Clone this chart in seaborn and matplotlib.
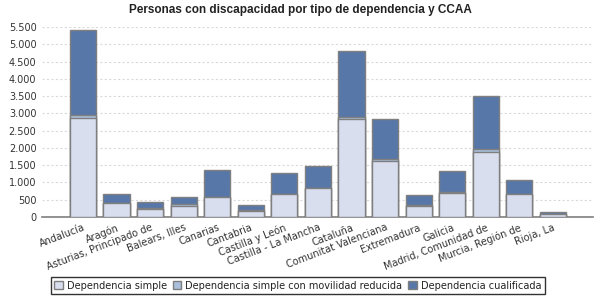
import numpy as np
import pandas as pd
import seaborn as sb
import matplotlib
matplotlib.use('Agg')
import matplotlib.pyplot as plt
from matplotlib.patches import Patch
from matplotlib.ticker import FuncFormatter, MultipleLocator

ccaa = ['Andalucía', 'Aragón', 'Asturias, Principado de', 'Balears, Illes', 'Canarias',
        'Cantabria', 'Castilla y León', 'Castilla - La Mancha', 'Cataluña',
        'Comunitat Valenciana', 'Extremadura', 'Galicia', 'Madrid, Comunidad de',
        'Murcia, Región de', 'Rioja, La']
simple = [2850, 395, 225, 330, 565, 185, 660, 825, 2825, 1615, 325, 705, 1870, 655, 72]
movilidad = [90, 10, 30, 30, 15, 10, 15, 15, 60, 55, 10, 15, 90, 10, 5]
cualificada = [2460, 255, 175, 210, 780, 145, 595, 635, 1930, 1175, 295, 610, 1550, 400, 63]
series = ['Dependencia simple', 'Dependencia simple con movilidad reducida',
          'Dependencia cualificada']

C_SIMPLE = '#d9deef'
C_MOV = '#a9bfdc'
C_CUAL = '#5677a8'
EDGE = '#7f7f7f'

df = pd.DataFrame({'ccaa': ccaa, 'simple': simple, 'mov': movilidad, 'cual': cualificada})
df['lvl1'] = df['simple']
df['lvl2'] = df['simple'] + df['mov']
df['lvl3'] = df['lvl2'] + df['cual']

sb.set_style('white')
plt.rcParams['font.family'] = ['DejaVu Sans']

fig = plt.figure(figsize=(6, 3), dpi=100)
ax = fig.add_axes([0.07, 0.277, 0.918, 0.633])

# stacked look: draw cumulative heights, tallest first
for col, c in [('lvl3', C_CUAL), ('lvl2', C_MOV), ('lvl1', C_SIMPLE)]:
    sb.barplot(data=df, x='ccaa', y=col, color=c, saturation=1, width=0.78,
               edgecolor=EDGE, linewidth=1.0, ax=ax, zorder=3)

ax.set_xlim(-1.22, len(ccaa) - 1 + 1.19)
ax.set_ylim(0, 5500)
ax.yaxis.set_major_locator(MultipleLocator(500))
ax.yaxis.set_major_formatter(FuncFormatter(lambda v, p: f'{int(v):,}'.replace(',', '.')))
ax.grid(axis='y', color='#dadada', linestyle=(0, (2, 2)), linewidth=0.8, zorder=0)
ax.set_axisbelow(True)
ax.set_xlabel('')
ax.set_ylabel('')
for s in ['top', 'right', 'left']:
    ax.spines[s].set_visible(False)
ax.spines['bottom'].set_color(EDGE)
ax.spines['bottom'].set_linewidth(1.2)
ax.tick_params(axis='both', length=0, labelsize=7, colors='#333333')
ax.tick_params(axis='y', pad=4)
ax.tick_params(axis='x', pad=4)
plt.setp(ax.get_xticklabels(), rotation=21, ha='right', rotation_mode='anchor')

# title centred on the whole figure, not on the axes
fig.text(0.5, 0.968, 'Personas con discapacidad por tipo de dependencia y CCAA',
         ha='center', va='center', fontsize=8.5, fontweight='bold', color='#222222',
         family='Liberation Sans')

handles = [Patch(facecolor=c, edgecolor=EDGE, linewidth=1) for c in (C_SIMPLE, C_MOV, C_CUAL)]
leg = fig.legend(handles, series, loc='center', bbox_to_anchor=(0.496, 0.048), ncol=3,
                 fontsize=7, frameon=True, fancybox=False, edgecolor='black',
                 handlelength=0.9, handleheight=0.9, handletextpad=0.4,
                 columnspacing=0.6, borderpad=0.35, labelcolor='#222222')
leg.get_frame().set_linewidth(1)

plt.savefig('out.png', dpi=100)
plt.close()
